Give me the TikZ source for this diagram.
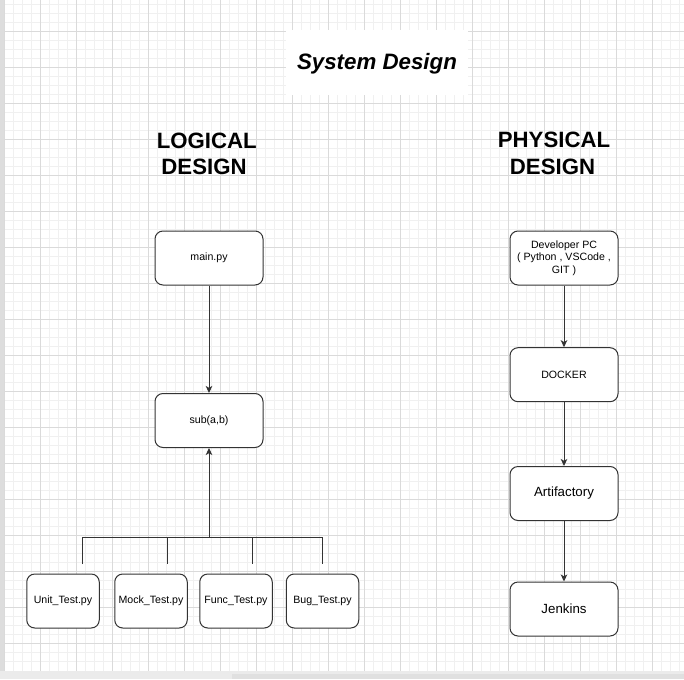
\documentclass[tikz,border=0pt]{standalone}
\usepackage{fontspec}
\setmainfont{Liberation Sans}
\usetikzlibrary{arrows.meta}
\definecolor{gridmajor}{HTML}{DADADA}
\definecolor{gridminor}{HTML}{F0F0F0}
\definecolor{edge}{HTML}{333333}
\definecolor{sidebar}{HTML}{DDDDDD}
\definecolor{strip}{HTML}{EBEBEB}
\definecolor{stripbar}{HTML}{E0E0E0}
\begin{document}
\begin{tikzpicture}[x=1pt,y=-1pt,
  box/.style={draw=edge, line width=1pt, rounded corners=8pt, fill=white, minimum height=54pt, inner sep=0pt, align=center, font=\fontsize{10.6}{12.7}\selectfont},
  wide/.style={minimum width=108pt},
  narrow/.style={minimum width=72.5pt},
  big/.style={font=\fontsize{13.3}{16}\selectfont},
  heading/.style={font=\bfseries\fontsize{22.2}{26.6}\selectfont, anchor=base, inner sep=0pt},
  conn/.style={draw=edge, line width=1pt},
  arr/.style={conn, -{Stealth[length=7pt,width=6.5pt,inset=1.8pt]}},
  minorline/.style={draw=gridminor, line width=1pt},
  majorline/.style={draw=gridmajor, line width=1pt},
]
\useasboundingbox (0,0) rectangle (684,679);
\fill[white] (0,0) rectangle (684,679);
% grid
\foreach \i in {0,...,75} \draw[minorline] ({4.7+9*\i},0) -- ({4.7+9*\i},671);
\foreach \i in {0,...,73} \draw[minorline] (4,{4.7+9*\i}) -- (684,{4.7+9*\i});
\foreach \i in {0,...,18} \draw[majorline] ({4.7+36*\i},0) -- ({4.7+36*\i},671);
\foreach \i in {0,...,17} \draw[majorline] (4,{31.7+36*\i}) -- (684,{31.7+36*\i});
\fill[sidebar] (0,0) rectangle (4,679);
\fill[strip] (0,671) rectangle (684,679);
\fill[stripbar] (232,674) rectangle (684,679);
% title
\fill[white] (286,30) rectangle (468,95);
\node[heading, font=\bfseries\itshape\fontsize{22.3}{26}\selectfont] (title) at (377,70) {System Design};
\node[heading] (log1) at (206.7,148.3) {LOGICAL};
\node[heading] (log2) at (204,175) {DESIGN};
\node[heading] (phy1) at (554,147.3) {PHYSICAL};
\node[heading] (phy2) at (552.5,175) {DESIGN};
% logical
\node[box,wide] (main) at (209,258) {main.py};
\node[box,wide] (sub) at (209,420.5) {sub(a,b)};
\node[box,narrow] (unit) at (63,601) {Unit\_Test.py};
\node[box,narrow] (mock) at (151,601) {Mock\_Test.py};
\node[box,narrow] (func) at (236,601) {Func\_Test.py};
\node[box,narrow] (bug) at (322.5,601) {Bug\_Test.py};
% physical
\node[box,wide] (dev) at (564,258) {Developer PC\\( Python , VSCode ,\\GIT )};
\node[box,wide] (docker) at (564,374.7) {DOCKER};
\node[box,wide,big] (art) at (564,493.5) {Artifactory};
\node[box,wide,big] (jen) at (564,609) {Jenkins};
% connectors
\draw[arr] (main) -- (sub);
\draw[arr] (dev) -- (docker);
\draw[arr] (docker) -- (art);
\draw[arr] (art) -- (jen);
\coordinate (j1) at (82,537);
\coordinate (j2) at (167,537);
\coordinate (jm) at (209,537);
\coordinate (j3) at (252,537);
\coordinate (j4) at (322,537);
\coordinate (t1) at (82,564);
\coordinate (t2) at (167,564);
\coordinate (t3) at (252,564);
\coordinate (t4) at (322,564);
\draw[conn] (t1) -- (j1) -- (j4) -- (t4);
\draw[conn] (j2) -- (t2);
\draw[conn] (j3) -- (t3);
\draw[arr] (jm) -- (sub);
\end{tikzpicture}
\end{document}
